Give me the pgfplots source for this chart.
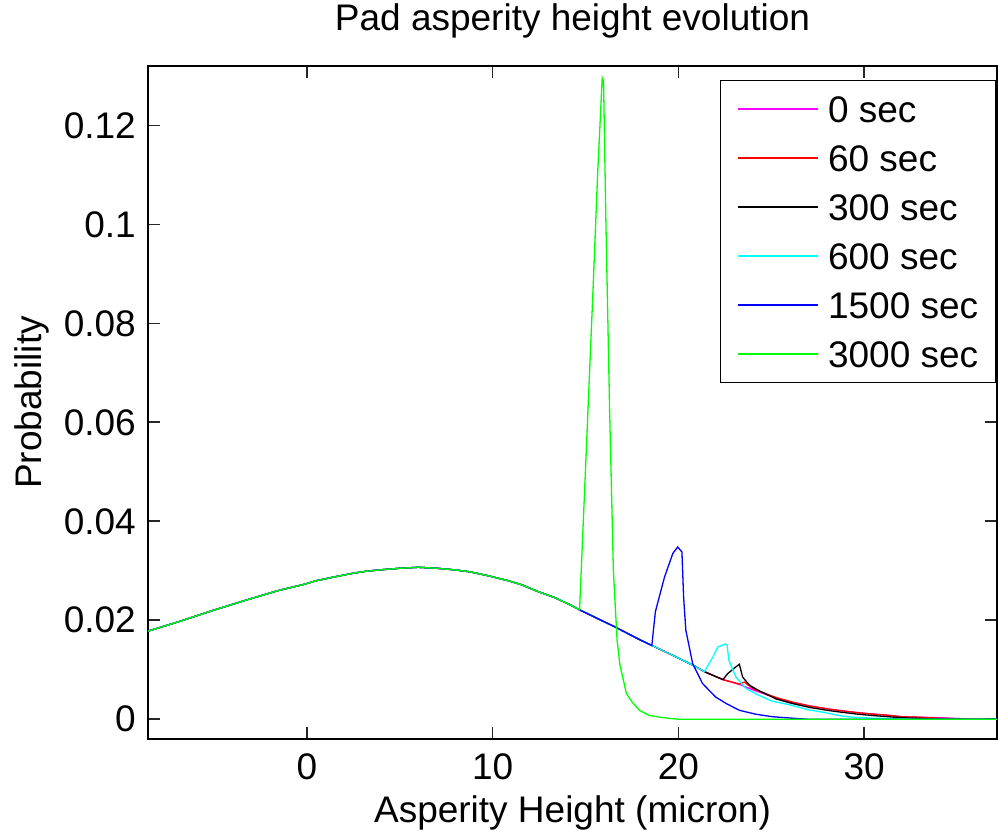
\documentclass[border=0pt]{standalone}
\usepackage{fontspec}
\setmainfont{Liberation Sans}
\usepackage{pgfplots}
\pgfplotsset{compat=1.18}
\definecolor{mmagenta}{rgb}{1,0,1}
\definecolor{mred}{rgb}{1,0,0}
\definecolor{mblack}{rgb}{0,0,0}
\definecolor{mcyan}{rgb}{0,1,1}
\definecolor{mblue}{rgb}{0,0,1}
\definecolor{mgreen}{rgb}{0,1,0}
\begin{document}
\fontsize{37}{44}\selectfont
\begin{tikzpicture}
\begin{axis}[
  at={(0pt,0pt)}, anchor=south west,
  scale only axis, width=849pt, height=673pt,
  xmin=-8.55, xmax=37.15, ymin=-0.004, ymax=0.132,
  xtick={0,10,20,30}, xticklabels={0,10,20,30},
  ytick={0,0.02,0.04,0.06,0.08,0.1,0.12},
  yticklabels={0,0.02,0.04,0.06,0.08,0.1,0.12},
  tick align=inside, major tick length=12pt,
  xtick pos=both, ytick pos=both,
  axis line style={line width=1.5pt, black},
  every tick/.append style={black!85, line width=1.6pt},
  tick label style={font=\fontsize{37}{44}\selectfont, inner sep=0pt},
  xticklabel style={anchor=north, yshift=-14pt},
  yticklabel style={anchor=east, xshift=-12pt},
  title={Pad asperity height evolution},
  title style={at={(axis description cs:0.5,1)}, anchor=base, yshift=29pt, font=\fontsize{37}{44}\selectfont},
  xlabel={Asperity Height (micron)},
  xlabel style={at={(axis description cs:0.5,0)}, anchor=base, yshift=-83pt, font=\fontsize{37}{44}\selectfont},
  legend cell align=left,
  legend image code/.code={\draw[#1, line width=1.6pt] (0pt,0pt) -- (80pt,0pt);},
  legend style={at={(axis description cs:1,1)}, anchor=north east, xshift=-1pt, yshift=-14pt,
    font=\fontsize{37}{44}\selectfont, draw=black, line width=1.5pt,
    inner xsep=17pt, inner ysep=15pt, row sep=22pt,
    nodes={inner sep=0pt, text height=27pt, text depth=0pt},
    /tikz/every odd column/.append style={column sep=9pt}},
]
% 0 sec
\addplot[draw=mmagenta, line width=1.3pt] coordinates {
(-8.55,0.0178) (-6.9,0.0197) (-5.12,0.0219) (-3.33,0.0240) (-1.54,0.0260) (-0.2,0.0272)
(0.52,0.0280) (1.41,0.0287) (2.49,0.0295) (3.2,0.0299) (4.0,0.0302) (5.0,0.0305) (6.0,0.0307)
(7.0,0.0305) (7.9,0.0302) (8.76,0.0298) (9.75,0.0290) (10.83,0.0280) (11.54,0.0272)
(12.44,0.0258) (13.33,0.0246) (14.23,0.0230) (14.68,0.0221) (15.67,0.0203) (16.56,0.0187)
(17.9,0.0161) (18.57,0.0149) (19.7,0.0129) (20.95,0.0106) (21.4,0.0096) (22.4,0.0080)
(23.3,0.0070) (24.1,0.0058) (25.25,0.0043) (26.1,0.0034) (27.04,0.0027) (28.0,0.0021)
(28.8,0.0017) (29.7,0.0013) (30.6,0.0010) (31.3,0.0008) (32.0,0.0005) (33.0,0.0004)
(34.0,0.0003) (35.3,0.0001) (36.0,0.0) (37.15,0.0)};
\addlegendentry{0 sec}
% 60 sec
\addplot[draw=mred, line width=1.3pt] coordinates {
(-8.55,0.0178) (-6.9,0.0197) (-5.12,0.0219) (-3.33,0.0240) (-1.54,0.0260) (-0.2,0.0272)
(0.52,0.0280) (1.41,0.0287) (2.49,0.0295) (3.2,0.0299) (4.0,0.0302) (5.0,0.0305) (6.0,0.0307)
(7.0,0.0305) (7.9,0.0302) (8.76,0.0298) (9.75,0.0290) (10.83,0.0280) (11.54,0.0272)
(12.44,0.0258) (13.33,0.0246) (14.23,0.0230) (14.68,0.0221) (15.67,0.0203) (16.56,0.0187)
(17.9,0.0161) (18.57,0.0149) (19.7,0.0129) (20.95,0.0106) (21.4,0.0096) (22.4,0.0080)
(23.3,0.0071) (23.55,0.0075) (23.75,0.0069) (24.1,0.0060) (25.25,0.0044) (26.1,0.0035)
(27.04,0.0027) (28.0,0.0021) (28.8,0.0017) (29.7,0.0013) (30.6,0.0010) (31.3,0.0008)
(32.0,0.0005) (33.0,0.0004) (34.0,0.0002) (35.0,0.0001) (35.5,0.0) (37.15,0.0)};
\addlegendentry{60 sec}
% 300 sec
\addplot[draw=mblack, line width=1.3pt] coordinates {
(-8.55,0.0178) (-6.9,0.0197) (-5.12,0.0219) (-3.33,0.0240) (-1.54,0.0260) (-0.2,0.0272)
(0.52,0.0280) (1.41,0.0287) (2.49,0.0295) (3.2,0.0299) (4.0,0.0302) (5.0,0.0305) (6.0,0.0307)
(7.0,0.0305) (7.9,0.0302) (8.76,0.0298) (9.75,0.0290) (10.83,0.0280) (11.54,0.0272)
(12.44,0.0258) (13.33,0.0246) (14.23,0.0230) (14.68,0.0221) (15.67,0.0203) (16.56,0.0187)
(17.9,0.0161) (18.57,0.0149) (19.7,0.0129) (20.95,0.0106) (21.4,0.0096) (22.4,0.0080)
(22.65,0.0092) (23.1,0.0106) (23.28,0.0111) (23.46,0.0085) (23.82,0.0069) (24.27,0.0059)
(25.25,0.0041) (26.1,0.0032) (27.04,0.0024) (28.0,0.0018) (28.8,0.0014) (29.7,0.0010)
(30.6,0.0007) (31.3,0.0005) (32.0,0.0003) (33.5,0.0001) (34.2,0.0) (37.15,0.0)};
\addlegendentry{300 sec}
% 600 sec
\addplot[draw=mcyan, line width=1.3pt] coordinates {
(-8.55,0.0178) (-6.9,0.0197) (-5.12,0.0219) (-3.33,0.0240) (-1.54,0.0260) (-0.2,0.0272)
(0.52,0.0280) (1.41,0.0287) (2.49,0.0295) (3.2,0.0299) (4.0,0.0302) (5.0,0.0305) (6.0,0.0307)
(7.0,0.0305) (7.9,0.0302) (8.76,0.0298) (9.75,0.0290) (10.83,0.0280) (11.54,0.0272)
(12.44,0.0258) (13.33,0.0246) (14.23,0.0230) (14.68,0.0221) (15.67,0.0203) (16.56,0.0187)
(17.9,0.0161) (18.57,0.0149) (19.7,0.0129) (20.95,0.0106) (21.4,0.0096)
(21.86,0.0126) (22.12,0.0146) (22.53,0.0152) (22.62,0.0150) (22.72,0.0119) (23.1,0.0085)
(23.64,0.0062) (24.18,0.0051) (25.0,0.0037) (26.1,0.0028) (27.0,0.0019) (27.94,0.0013)
(28.7,0.0007) (29.4,0.0004) (30.5,0.0002) (31.5,0.0001) (32.5,0.0) (37.15,0.0)};
\addlegendentry{600 sec}
% 1500 sec
\addplot[draw=mblue, line width=1.3pt] coordinates {
(-8.55,0.0178) (-6.9,0.0197) (-5.12,0.0219) (-3.33,0.0240) (-1.54,0.0260) (-0.2,0.0272)
(0.52,0.0280) (1.41,0.0287) (2.49,0.0295) (3.2,0.0299) (4.0,0.0302) (5.0,0.0305) (6.0,0.0307)
(7.0,0.0305) (7.9,0.0302) (8.76,0.0298) (9.75,0.0290) (10.83,0.0280) (11.54,0.0272)
(12.44,0.0258) (13.33,0.0246) (14.23,0.0230) (14.68,0.0221) (15.67,0.0203) (16.56,0.0187)
(17.9,0.0161) (18.57,0.0149)
(18.76,0.0217) (19.25,0.0287) (19.7,0.0335) (19.96,0.0348) (20.19,0.0338) (20.28,0.0247)
(20.4,0.0180) (20.77,0.0112) (21.3,0.0072) (22.0,0.0045) (22.56,0.0032) (23.28,0.0018)
(24.18,0.0010) (25.07,0.0005) (26.5,0.0001) (27.0,0.0) (37.15,0.0)};
\addlegendentry{1500 sec}
% 3000 sec
\addplot[draw=mgreen, line width=1.3pt] coordinates {
(-8.55,0.0178) (-6.9,0.0197) (-5.12,0.0219) (-3.33,0.0240) (-1.54,0.0260) (-0.2,0.0272)
(0.52,0.0280) (1.41,0.0287) (2.49,0.0295) (3.2,0.0299) (4.0,0.0302) (5.0,0.0305) (6.0,0.0307)
(7.0,0.0305) (7.9,0.0302) (8.76,0.0298) (9.75,0.0290) (10.83,0.0280) (11.54,0.0272)
(12.44,0.0258) (13.33,0.0246) (14.23,0.0230) (14.68,0.0221)
(15.05,0.0550) (15.41,0.0873) (15.65,0.1100) (15.9,0.1296) (15.97,0.1290) (16.1,0.1000)
(16.3,0.0620) (16.5,0.0300) (16.7,0.0160) (16.85,0.0110) (17.2,0.0052) (17.5,0.0035)
(17.9,0.0018) (18.4,0.0008) (19.0,0.0004) (19.7,0.0001) (20.0,0.0) (37.15,0.0)};
\addlegendentry{3000 sec}
\end{axis}
\pgfresetboundingbox
\useasboundingbox (-148pt,-96pt) rectangle (850pt,739pt);
\node[rotate=90, anchor=base, font=\fontsize{37}{44}\selectfont] at (-106pt,336.5pt) {Probability};
\end{tikzpicture}
\end{document}
